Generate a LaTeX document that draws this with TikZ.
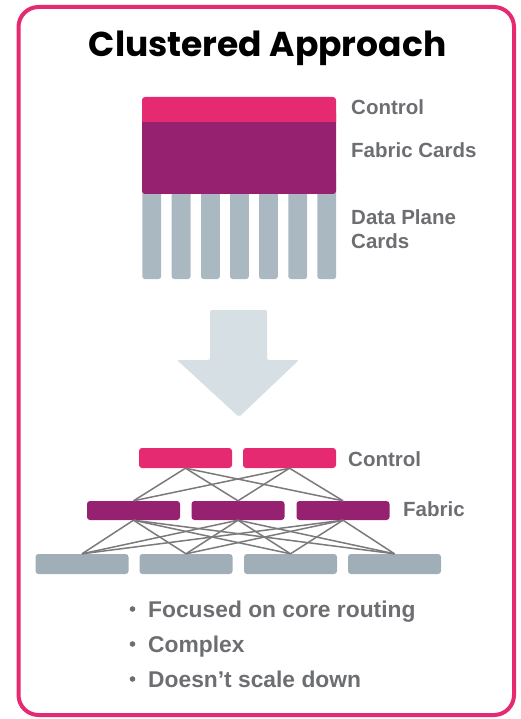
\documentclass[tikz,border=0pt]{standalone}
\usepackage{fontspec}
\setmainfont{Liberation Sans}
\newfontfamily\titlefont{Poppins}
\definecolor{cpink}{HTML}{E62A72}
\definecolor{cpurple}{HTML}{952170}
\definecolor{cgray}{HTML}{A9B8C1}
\definecolor{cgrayb}{HTML}{A0AEB7}
\definecolor{carrow}{HTML}{D6DFE4}
\definecolor{ctext}{HTML}{6D6E72}
\definecolor{cline}{HTML}{7A7A7A}
\begin{document}
\begin{tikzpicture}[x=1pt,y=-1pt,
  lbl/.style={anchor=base west,inner sep=0,text=ctext,font=\fontsize{20.5}{24}\selectfont\bfseries},
  bul/.style={anchor=base west,inner sep=0,text=ctext,font=\fontsize{22.8}{26}\selectfont\bfseries},
  box/.style={rectangle,rounded corners=3,inner sep=0,minimum width=93,minimum height=20},
  link/.style={draw=cline,line width=1.5}]
\useasboundingbox (0,0) rectangle (520,719);
\draw[cpink,line width=4,rounded corners=20] (18.5,7) rectangle (514,715);
\node[anchor=base,inner sep=0,font=\titlefont\fontsize{34.5}{40}\selectfont\bfseries] (title) at (267.5,57) {Clustered Approach};
% top block
\foreach \x in {142.3,171.7,201,230,259,288.3,317.3}
  \fill[cgray,rounded corners=2.5] (\x,170) rectangle ++(18.8,109);
\fill[cpurple,rounded corners=3] (142,110) rectangle (336,194);
\fill[cpink] (142,122) [rounded corners=3] -- (142,97) -- (336,97) [sharp corners] -- (336,122) -- cycle;
\node[lbl] (l1) at (351,115) {Control};
\node[lbl] (l2) at (351,158) {Fabric Cards};
\node[lbl] (l3) at (351,225) {Data Plane};
\node[lbl] (l4) at (351,248) {Cards};
% arrow
\fill[carrow,rounded corners=2] (210,310) -- (267,310) -- (267,360) -- (299,360) -- (239,417) -- (177,360) -- (210,360) -- cycle;
% network
\node[box,fill=cpink] (c1) at (185.5,458) {};
\node[box,fill=cpink] (c2) at (289.5,458) {};
\node[box,fill=cpurple,minimum height=19] (f1) at (133.5,510.5) {};
\node[box,fill=cpurple,minimum height=19] (f2) at (238,510.5) {};
\node[box,fill=cpurple,minimum height=19] (f3) at (343,510.5) {};
\node[box,fill=cgrayb] (d1) at (82,564) {};
\node[box,fill=cgrayb] (d2) at (186,564) {};
\node[box,fill=cgrayb] (d3) at (290.5,564) {};
\node[box,fill=cgrayb] (d4) at (394.5,564) {};
\foreach \c in {c1,c2} \foreach \f in {f1,f2,f3} \draw[link] (\c.south) -- (\f.north);
\foreach \f in {f1,f2,f3} \foreach \d in {d1,d2,d3,d4} \draw[link] (\f.south) -- (\d.north);
\node[lbl] (lc) at (348,466) {Control};
\node[lbl] (lf) at (403,516) {Fabric};
% bullets
\node[bul] (b1) at (148,617) {Focused on core routing};
\node[bul] (b2) at (148,652) {Complex};
\node[bul] (b3) at (148,687) {Doesn’t scale down};
\foreach \y in {609,644,679} \fill[ctext] (132.5,\y) circle (2.8);
\end{tikzpicture}
\end{document}
